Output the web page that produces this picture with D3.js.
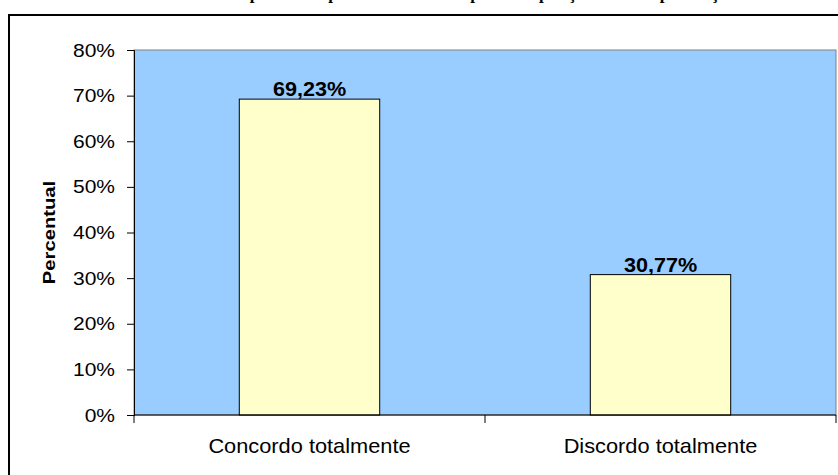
<!DOCTYPE html>
<html>
<head>
<meta charset="utf-8">
<script src="https://cdn.jsdelivr.net/npm/d3@7"></script>
<style>
  body { margin: 0; background: #fff; }
  svg { display: block; }
</style>
</head>
<body>
<script>
// dados do gráfico
const categories = ["Concordo totalmente", "Discordo totalmente"];
const values = [69.23, 30.77];
const yTicks = [0, 10, 20, 30, 40, 50, 60, 70, 80];
const titleText = "Opinião dos professores sobre a prova da posição e da sua pontuação";
const yLabel = "Percentual";

const width = 838, height = 475;
const margin = {top: 50, right: 2, bottom: 60, left: 134};

const ptBR = d3.formatLocale({decimal: ",", thousands: ".", grouping: [3], currency: ["R$", ""]});
const fmtValue = d => ptBR.format(".2f")(d) + "%";

// Excel esticou o texto na horizontal
function stretch(sel, sx) {
    sel.each(function () {
        let t = d3.select(this);
        let x = +t.attr("x") || 0, y = +t.attr("y") || 0;
        t.attr("x", 0).attr("y", 0)
         .attr("transform", "translate(" + x + "," + y + ") scale(" + sx + ",1)");
    });
}

let svg = d3.select("body").append("svg")
    .attr("width", width)
    .attr("height", height);

// moldura externa
svg.append("path")
    .attr("d", "M9,475 V15 H838")
    .attr("fill", "none")
    .attr("stroke", "#000")
    .attr("stroke-width", 2);

// título (cortado no topo, só aparecem as descendentes)
svg.append("text")
    .attr("x", 486)
    .attr("y", -1)
    .attr("text-anchor", "middle")
    .style("font-family", "'Liberation Serif', 'Times New Roman', serif")
    .style("font-weight", "bold")
    .style("font-size", "17px")
    .text(titleText);

let x = d3.scaleBand()
    .domain(categories)
    .range([margin.left, width - margin.right])
    .padding(0);

let y = d3.scaleLinear()
    .domain([0, 80])
    .range([height - margin.bottom, margin.top]);

// área de plotagem
svg.append("rect")
    .attr("x", margin.left)
    .attr("y", margin.top)
    .attr("width", width - margin.right - margin.left)
    .attr("height", height - margin.bottom - margin.top)
    .attr("fill", "#99ccff")
    .attr("stroke", "#808080")
    .attr("stroke-width", 1);

let barW = x.bandwidth() * 0.4;

svg.append("g")
    .selectAll("rect")
    .data(values)
    .enter().append("rect")
    .attr("x", (d, i) => x(categories[i]) + (x.bandwidth() - barW) / 2)
    .attr("y", d => y(d))
    .attr("width", barW)
    .attr("height", d => y(0) - y(d))
    .attr("fill", "#ffffcc")
    .attr("stroke", "#000")
    .attr("stroke-width", 1);

// rótulos de dados
svg.append("g")
    .selectAll("text")
    .data(values)
    .enter().append("text")
    .attr("x", (d, i) => x(categories[i]) + x.bandwidth() / 2)
    .attr("y", d => y(d) - 3)
    .attr("text-anchor", "middle")
    .style("font-family", "'Liberation Sans', Arial, sans-serif")
    .style("font-weight", "bold")
    .style("font-size", "20px")
    .text(d => fmtValue(d))
    .call(stretch, 1.08);

// eixo y
let yAxis = svg.append("g")
    .attr("transform", "translate(" + margin.left + ",0)")
    .call(d3.axisLeft(y).tickValues(yTicks).tickSize(7).tickPadding(12)
        .tickFormat(d => d + "%"));
yAxis.select(".domain").attr("stroke", "#000");
yAxis.selectAll("text")
    .style("font-family", "'Liberation Sans', Arial, sans-serif")
    .style("font-size", "17.5px")
    .attr("fill", "#000")
    .attr("dy", null)
    .attr("y", 6)
    .call(stretch, 1.2);

// eixo x
let xTickPos = [margin.left, margin.left + x.bandwidth(), width - margin.right];
let xAxis = svg.append("g").attr("transform", "translate(0," + y(0) + ")");
xAxis.append("line")
    .attr("x1", margin.left).attr("x2", width - margin.right)
    .attr("stroke", "#000");
xAxis.selectAll(".tick")
    .data(xTickPos)
    .enter().append("line")
    .attr("x1", d => d).attr("x2", d => d)
    .attr("y1", 0).attr("y2", 8)
    .attr("stroke", "#000");
xAxis.selectAll(".lbl")
    .data(categories)
    .enter().append("text")
    .attr("class", "lbl")
    .attr("x", d => x(d) + x.bandwidth() / 2)
    .attr("y", 38)
    .attr("text-anchor", "middle")
    .style("font-family", "'Liberation Sans', Arial, sans-serif")
    .style("font-size", "20px")
    .text(d => d)
    .call(stretch, 1.09);

// título do eixo y
svg.append("text")
    .attr("transform", "translate(55," + ((margin.top + height - margin.bottom) / 2) + ") rotate(-90) scale(1.19,1)")
    .attr("text-anchor", "middle")
    .style("font-family", "'Liberation Sans', Arial, sans-serif")
    .style("font-weight", "bold")
    .style("font-size", "17px")
    .text(yLabel);
</script>
</body>
</html>
